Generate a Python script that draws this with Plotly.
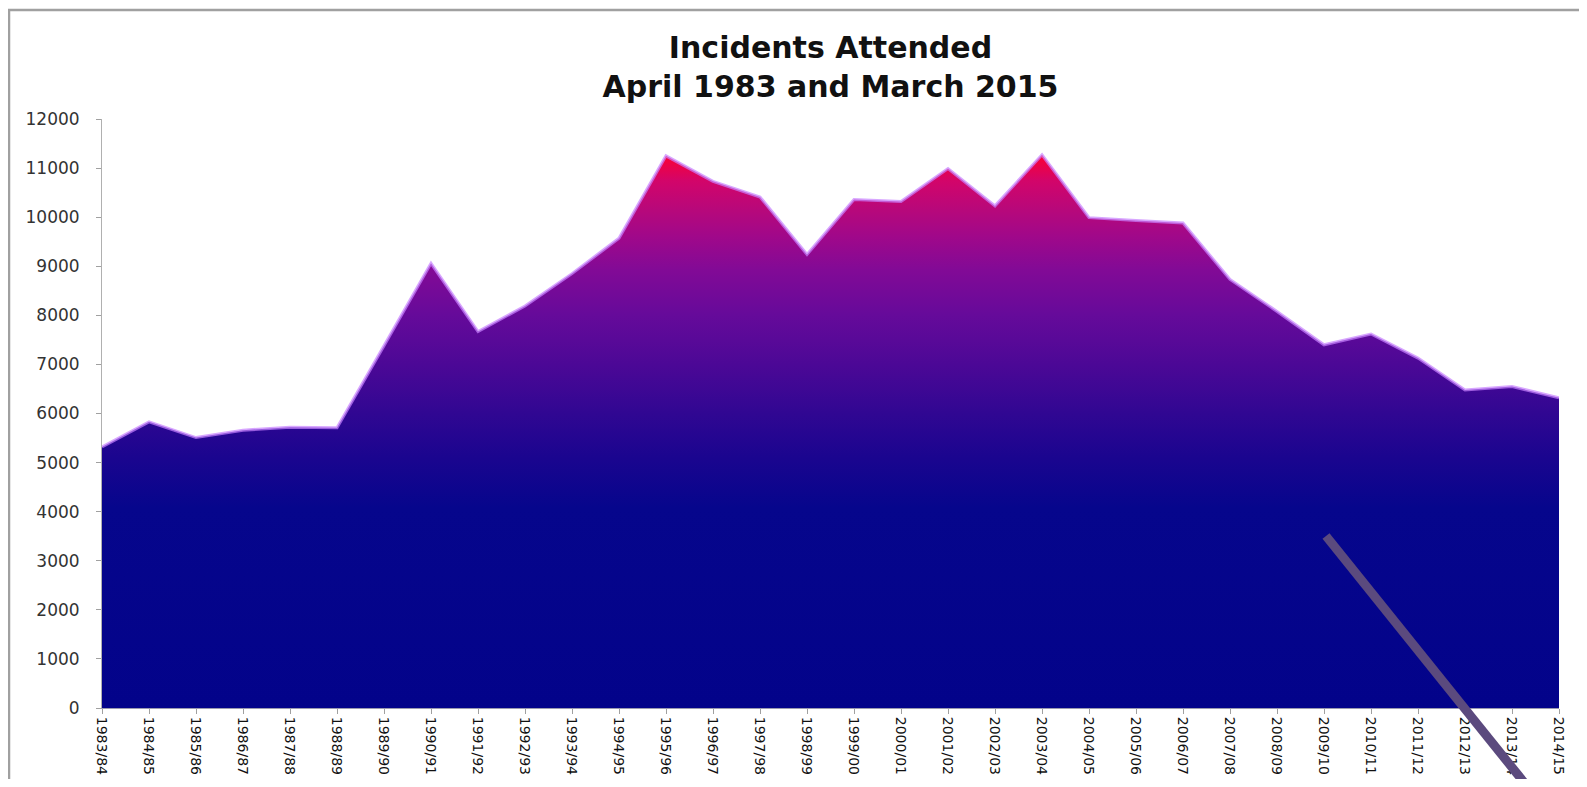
import plotly.graph_objects as go

years = ["1983/84", "1984/85", "1985/86", "1986/87", "1987/88", "1988/89", "1989/90",
         "1990/91", "1991/92", "1992/93", "1993/94", "1994/95", "1995/96", "1996/97",
         "1997/98", "1998/99", "1999/00", "2000/01", "2001/02", "2002/03", "2003/04",
         "2004/05", "2005/06", "2006/07", "2007/08", "2008/09", "2009/10", "2010/11",
         "2011/12", "2012/13", "2013/14", "2014/15"]
incidents = [5320, 5830, 5510, 5660, 5720, 5710, 7380,
             9060, 7670, 8190, 8850, 9570, 11250, 10730,
             10410, 9240, 10360, 10320, 10990, 10230, 11270,
             9990, 9930, 9880, 8730, 8080, 7400, 7620,
             7130, 6480, 6550, 6320]
y_ticks = list(range(0, 12001, 1000))

title_text = "<b>Incidents Attended<br>April 1983 and March 2015</b>"

gradient = [
    [0.00, "#03038A"],
    [0.36, "#06068C"],
    [0.45, "#1A058F"],
    [0.53, "#300792"],
    [0.62, "#4C0896"],
    [0.71, "#660A9A"],
    [0.79, "#820A96"],
    [0.85, "#A0088A"],
    [0.90, "#B8087A"],
    [0.95, "#D2056A"],
    [1.00, "#FF0030"],
]

fig = go.Figure()
fig.add_trace(go.Scatter(
    x=years, y=incidents, mode="lines", fill="tozeroy",
    fillgradient=dict(type="vertical", colorscale=gradient, start=0, stop=11300),
    line=dict(color="rgba(200,130,255,0.7)", width=3),
    hoverinfo="x+y", showlegend=False,
))

OFF = 8  # default page body margin
W, H = 1587 - 2 * OFF, 787 - 2 * OFF
L, R, T, B = 102 - OFF, 20, 119 - OFF, 71
pw, ph = W - L - R, H - T - B

def px(x):
    return (x - OFF - L) / pw

def py(y):
    return (H - B - (y - OFF)) / ph

fig.update_layout(
    width=W, height=H,
    margin=dict(l=L, r=R, t=T, b=B, pad=0, autoexpand=False),
    paper_bgcolor="white", plot_bgcolor="white",
    title=dict(text=title_text, x=0.5, xref="paper", xanchor="center",
               y=1 - 50 / H, yref="container", yanchor="top", automargin=False,
               font=dict(family="DejaVu Sans", size=30, color="#111111")),
    xaxis=dict(type="category", range=[0, len(years) - 1], tickangle=90, automargin=False,
               showgrid=False, zeroline=False, showline=True, linecolor="#9A9AB0", linewidth=1,
               ticks="outside", ticklen=5, tickcolor="#A0A0A0",
               tickfont=dict(family="DejaVu Sans", size=14, color="#111111")),
    yaxis=dict(range=[0, 12000], tickvals=y_ticks, ticktext=[str(v) for v in y_ticks],
               automargin=False,
               showgrid=False, zeroline=False, showline=True, linecolor="#B0B0B0", linewidth=1,
               ticks="outside", ticklen=5, tickcolor="#A0A0A0", ticklabelstandoff=13,
               tickfont=dict(family="DejaVu Sans", size=17, color="#333333")),
    shapes=[
        dict(type="rect", xref="paper", yref="paper",
             x0=px(9), x1=px(1583), y0=py(800), y1=py(10),
             line=dict(color="#A0A0A0", width=2.5), fillcolor="rgba(0,0,0,0)", layer="below"),
        dict(type="line", xref="paper", yref="paper",
             x0=px(1326), y0=py(536), x1=px(1535), y1=py(796),
             line=dict(color="#5B4A7E", width=9), layer="above"),
    ],
)

fig.write_html("out.html")
